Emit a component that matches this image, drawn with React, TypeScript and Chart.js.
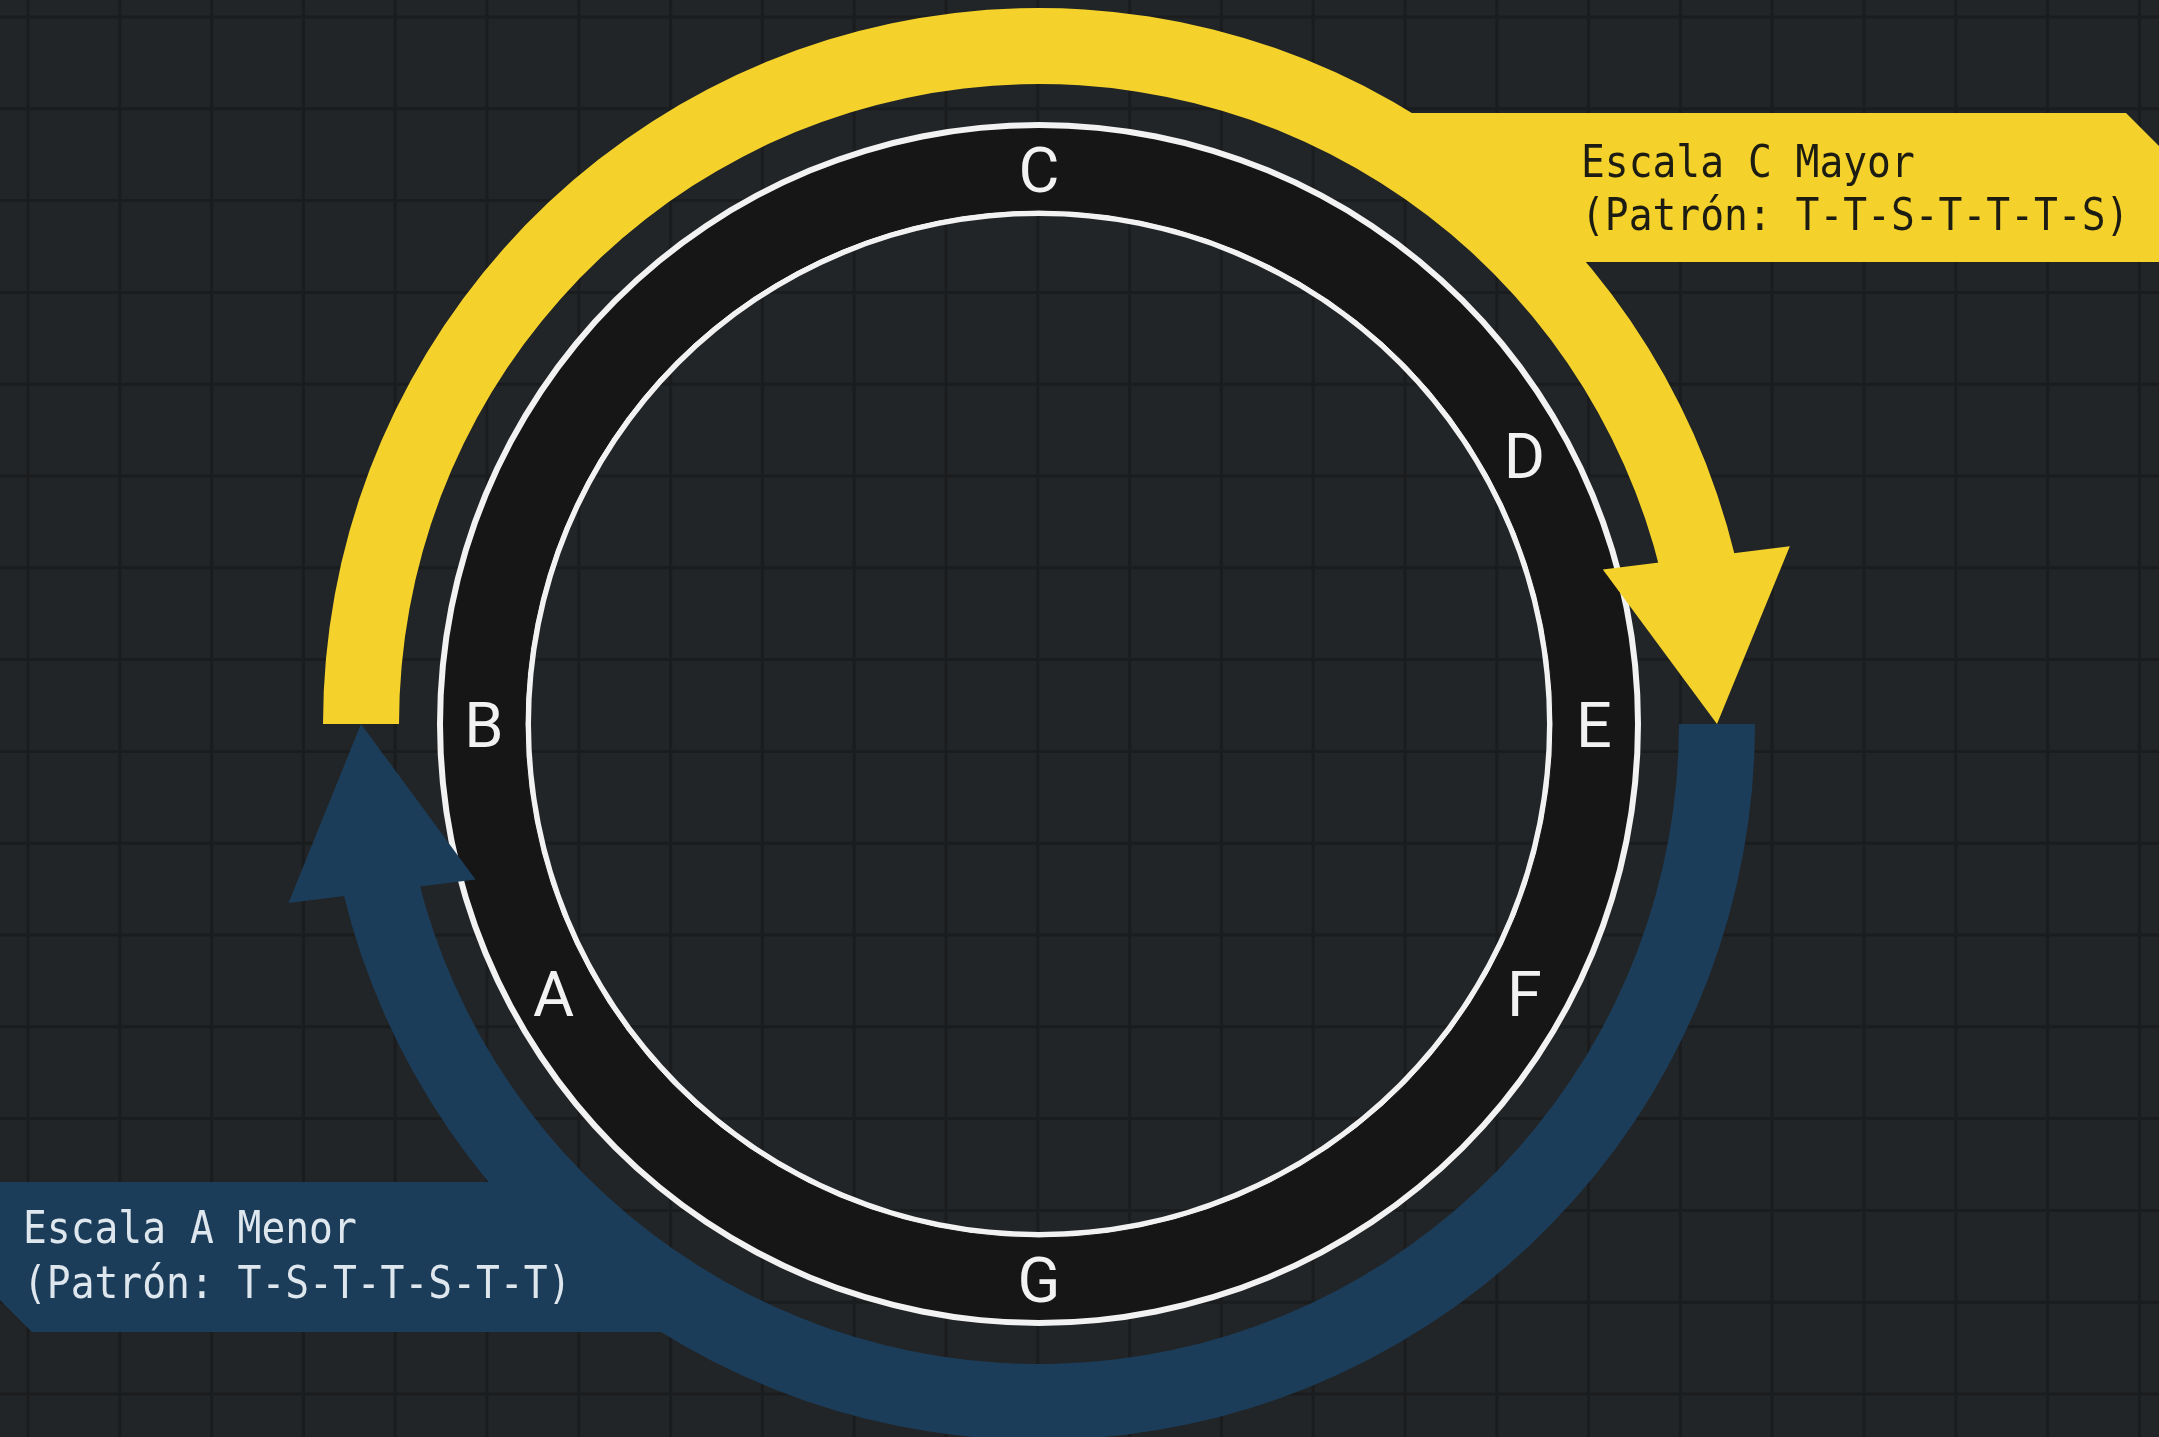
import React, { useEffect, useRef } from "react";
import { Chart, registerables } from "chart.js";

Chart.register(...registerables);

// ---------------- data ----------------
const noteLabels = ["C", "D", "E", "F", "G", "A", "B"];
// position of each note on the ring, degrees clockwise from the top
const noteAngles = [0, 61, 90, 119, 180, 241, 270];
const scaleTitles = ["Escala C Mayor", "Escala A Menor"];
const scalePatterns = ["(Patrón: T-T-S-T-T-T-S)", "(Patrón: T-S-T-T-S-T-T)"];
// arc length (deg) of each scale band and of its arrow head
const scaleArcDegrees = [166.5, 166.4];
const arrowHeadDegrees = [13.5, 13.6];
const scaleStartRotation = 270; // bands start at B (left)

// ---------------- styles / layout ----------------
const CANVAS_W = 2159;
const CANVAS_H = 1437;
const BG = "#222527";
const GRID = "#1a1c1e";
const YELLOW = "#F4D22B";
const BLUE = "#1C3D5A";
const RING = "#161616";
const WHITE = "#F2F2F2";
const CLEAR = "rgba(0,0,0,0)";
const TEXT_DARK = "#1d1c12";
const TEXT_LIGHT = "#dfe7ee";

// radial band boundaries (px), outside -> inside
const RADII = [716, 640, 602, 596, 514, 508];
const weights = RADII.slice(0, -1).map((r, i) => r - RADII[i + 1]);

const ringIntervals = noteAngles.map(
  (a, i) => (noteAngles[(i + 1) % noteAngles.length] - a + 360) % 360
);

const scenePlugin = {
  id: "scene",
  beforeDraw(chart: any) {
    const ctx = chart.ctx as CanvasRenderingContext2D;
    const w = chart.width;
    const h = chart.height;
    ctx.save();
    ctx.fillStyle = BG;
    ctx.fillRect(0, 0, w, h);
    ctx.strokeStyle = GRID;
    ctx.lineWidth = 3;
    for (let x = 28; x < w; x += 91.8) {
      ctx.beginPath();
      ctx.moveTo(x, 0);
      ctx.lineTo(x, h);
      ctx.stroke();
    }
    for (let y = 17; y < h; y += 91.8) {
      ctx.beginPath();
      ctx.moveTo(0, y);
      ctx.lineTo(w, y);
      ctx.stroke();
    }
    ctx.restore();
  },
  beforeDatasetsDraw(chart: any) {
    const ctx = chart.ctx as CanvasRenderingContext2D;
    const arc: any = chart.getDatasetMeta(0).data[0];
    if (!arc) return;
    const cx = arc.x;
    const cy = arc.y;
    const mid = (arc.innerRadius + arc.outerRadius) / 2;
    const xOn = (y: number, side: number) =>
      cx + side * Math.sqrt(Math.max(mid * mid - (y - cy) * (y - cy), 0));
    ctx.save();
    // yellow callout
    ctx.fillStyle = YELLOW;
    ctx.beginPath();
    ctx.moveTo(xOn(113, 1), 113);
    ctx.lineTo(2126, 113);
    ctx.lineTo(2168, 155);
    ctx.lineTo(2168, 262);
    ctx.lineTo(xOn(262, 1), 262);
    ctx.closePath();
    ctx.fill();
    // blue callout
    ctx.fillStyle = BLUE;
    ctx.beginPath();
    ctx.moveTo(-5, 1182);
    ctx.lineTo(xOn(1182, -1), 1182);
    ctx.lineTo(xOn(1332, -1), 1332);
    ctx.lineTo(32, 1332);
    ctx.lineTo(-2, 1298);
    ctx.closePath();
    ctx.fill();
    ctx.restore();
  },
  afterDatasetsDraw(chart: any) {
    const ctx = chart.ctx as CanvasRenderingContext2D;
    const meta = chart.getDatasetMeta(0);
    ctx.save();
    // arrow heads: isosceles triangles, base centred near the band end
    const heads: [number, string][] = [
      [0, YELLOW],
      [2, BLUE],
    ];
    heads.forEach(([i, color]) => {
      const arc: any = meta.data[i];
      const head: any = meta.data[i + 1];
      if (!arc || !head) return;
      const cx = arc.x;
      const cy = arc.y;
      const mid = (arc.innerRadius + arc.outerRadius) / 2;
      const half = (arc.outerRadius - arc.innerRadius) * 1.24;
      const a0 = arc.endAngle - 0.012;
      const a1 = head.endAngle;
      const bx = cx + mid * Math.cos(a0);
      const by = cy + mid * Math.sin(a0);
      const tx = cx + mid * Math.cos(a1);
      const ty = cy + mid * Math.sin(a1);
      const len = Math.hypot(tx - bx, ty - by) || 1;
      const px = -(ty - by) / len;
      const py = (tx - bx) / len;
      ctx.fillStyle = color;
      ctx.beginPath();
      ctx.moveTo(bx + px * half, by + py * half);
      ctx.lineTo(bx - px * half, by - py * half);
      ctx.lineTo(tx, ty);
      ctx.closePath();
      ctx.fill();
    });

    // note labels on the ring
    const ring: any = chart.getDatasetMeta(3).data[0];
    if (ring) {
      const cx = ring.x;
      const cy = ring.y;
      const r = (ring.innerRadius + ring.outerRadius) / 2;
      ctx.fillStyle = WHITE;
      ctx.font = "400 63px Roboto, 'Noto Sans', sans-serif";
      ctx.textAlign = "center";
      ctx.textBaseline = "alphabetic";
      noteLabels.forEach((lab, i) => {
        const a = ((noteAngles[i] - 90) * Math.PI) / 180;
        const x = cx + r * Math.cos(a);
        const y = cy + r * Math.sin(a);
        ctx.fillText(lab, x, y + 23);
      });
    }

    // callout texts
    const drawText = (txt: string, x: number, y: number, color: string) => {
      ctx.save();
      ctx.translate(x, y);
      ctx.scale(0.9, 1);
      ctx.fillStyle = color;
      ctx.font = "44px 'DejaVu Sans Mono', 'Liberation Mono', monospace";
      ctx.textAlign = "left";
      ctx.textBaseline = "alphabetic";
      ctx.fillText(txt, 0, 0);
      ctx.restore();
    };
    drawText(scaleTitles[0], 1581, 177, TEXT_DARK);
    drawText(scalePatterns[0], 1581, 230, TEXT_DARK);
    drawText(scaleTitles[1], 23, 1243, TEXT_LIGHT);
    drawText(scalePatterns[1], 23, 1298, TEXT_LIGHT);
    ctx.restore();
  },
};

export default function App() {
  const canvasRef = useRef<HTMLCanvasElement | null>(null);

  useEffect(() => {
    document.body.style.margin = "0";
    document.body.style.background = BG;
    const canvas = canvasRef.current;
    if (!canvas) return;
    const chart = new Chart(canvas, {
      type: "doughnut",
      data: {
        labels: noteLabels,
        datasets: [
          {
            data: [scaleArcDegrees[0], arrowHeadDegrees[0], scaleArcDegrees[1], arrowHeadDegrees[1]],
            backgroundColor: [YELLOW, CLEAR, BLUE, CLEAR],
            rotation: scaleStartRotation,
            weight: weights[0],
          } as any,
          { data: [1], backgroundColor: [CLEAR], weight: weights[1] } as any,
          { data: [1], backgroundColor: [WHITE], weight: weights[2] } as any,
          {
            data: ringIntervals,
            backgroundColor: RING,
            borderColor: RING,
            borderWidth: 1,
            weight: weights[3],
          } as any,
          { data: [1], backgroundColor: [WHITE], weight: weights[4] } as any,
        ],
      },
      options: {
        animation: false,
        responsive: false,
        devicePixelRatio: 1,
        events: [],
        radius: RADII[0],
        cutout: `${(RADII[RADII.length - 1] / RADII[0]) * 100}%`,
        borderWidth: 0,
        layout: { padding: { left: 0, right: 81, top: 11, bottom: 0 } },
        plugins: {
          legend: { display: false },
          tooltip: { enabled: false },
        },
      } as any,
      plugins: [scenePlugin],
    });
    return () => chart.destroy();
  }, []);

  return (
    <div style={{ width: CANVAS_W, height: CANVAS_H, overflow: "hidden", background: BG }}>
      <canvas ref={canvasRef} width={CANVAS_W} height={CANVAS_H} style={{ display: "block" }} />
    </div>
  );
}
